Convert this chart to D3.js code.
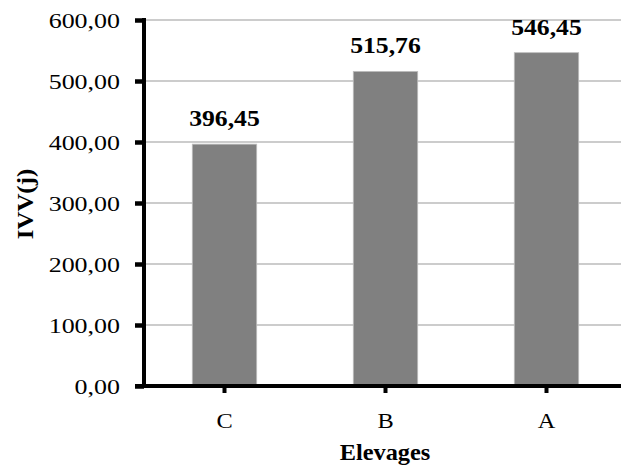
<!DOCTYPE html>
<html><head><meta charset="utf-8">
<script src="https://cdn.jsdelivr.net/npm/d3@7"></script>
<style>body{margin:0;background:#fff}svg{display:block}text{font-family:"Liberation Serif","Times New Roman",serif;fill:#000}</style>
</head><body><svg id="c" width="621" height="470"></svg>
<script>
const categories = ["C","B","A"];
const values = [396.45, 515.76, 546.45];
const yTicks = [0,100,200,300,400,500,600];
const fmt = v => v.toFixed(2).replace(".", ",");

const svg = d3.select("#c");
const m = {left:144, top:20, bottom:386, right:627};
const x = d3.scaleBand().domain(categories).range([m.left, m.right]).paddingInner(0.6).paddingOuter(0.3);
const y = d3.scaleLinear().domain([0,600]).range([m.bottom, m.top]);

// horizontal stretch helper around anchor x
const stretch = (sel, sx) => sel.attr("transform", function(){
  const x0 = +this.getAttribute("x") || 0;
  return `translate(${x0},0) scale(${sx},1) translate(${-x0},0)`;
});

// gridlines
svg.append("g").selectAll("line").data(yTicks.filter(t=>t>0)).join("line")
  .attr("x1", m.left).attr("x2", 621).attr("y1", d=>y(d)).attr("y2", d=>y(d))
  .attr("stroke", "#9a9a9a").attr("stroke-width", 1.2);

// bars
svg.append("g").selectAll("rect").data(values).join("rect")
  .attr("x", (d,i)=>x(categories[i])).attr("width", x.bandwidth())
  .attr("y", d=>y(d)).attr("height", d=>y(0)-y(d))
  .attr("fill", "#808080").attr("stroke", "#bdbdbd").attr("stroke-width", 0.8);

// value labels
svg.append("g").selectAll("text").data(values).join("text")
  .attr("x", (d,i)=>x(categories[i]) + x.bandwidth()/2).attr("y", d=>y(d)-18)
  .attr("text-anchor","middle").attr("font-weight","bold").attr("font-size", 24)
  .text(d=>fmt(d)).call(stretch, 1.07);

// y axis
const ya = svg.append("g").attr("transform", `translate(${m.left},0)`)
  .call(d3.axisLeft(y).tickValues(yTicks).tickFormat(fmt).tickSize(9).tickPadding(15));
ya.attr("font-family", null).attr("font-size", null);
ya.select(".domain").attr("stroke","#000").attr("stroke-width",4).attr("d", `M0,${m.top-2}V${m.bottom+2}`);
ya.selectAll(".tick line").attr("stroke","#000").attr("stroke-width",4.5);
ya.selectAll(".tick text").attr("font-size", 22).attr("dy","0.32em").call(stretch, 1.18);

// x axis
const xa = svg.append("g").attr("transform", `translate(0,${m.bottom})`)
  .call(d3.axisBottom(x).tickSize(7).tickPadding(8));
xa.attr("font-family", null).attr("font-size", null);
xa.select(".domain").attr("stroke","#000").attr("stroke-width",4).attr("d", `M${m.left-9},0H621`);
xa.selectAll(".tick line").attr("stroke","#000").attr("stroke-width",4);
xa.selectAll(".tick text").attr("font-size", 21).attr("y", 42).attr("dy", null).call(stretch, 1.16);

// axis titles
svg.append("text").attr("x", 385).attr("y", 460).attr("text-anchor","middle")
  .attr("font-weight","bold").attr("font-size", 23).text("Elevages").call(stretch, 1.06);
svg.append("text").attr("transform","translate(33,204) rotate(-90) scale(1.08,1)").attr("text-anchor","middle")
  .attr("font-weight","bold").attr("font-size", 23).text("IVV(j)");
</script></body></html>
